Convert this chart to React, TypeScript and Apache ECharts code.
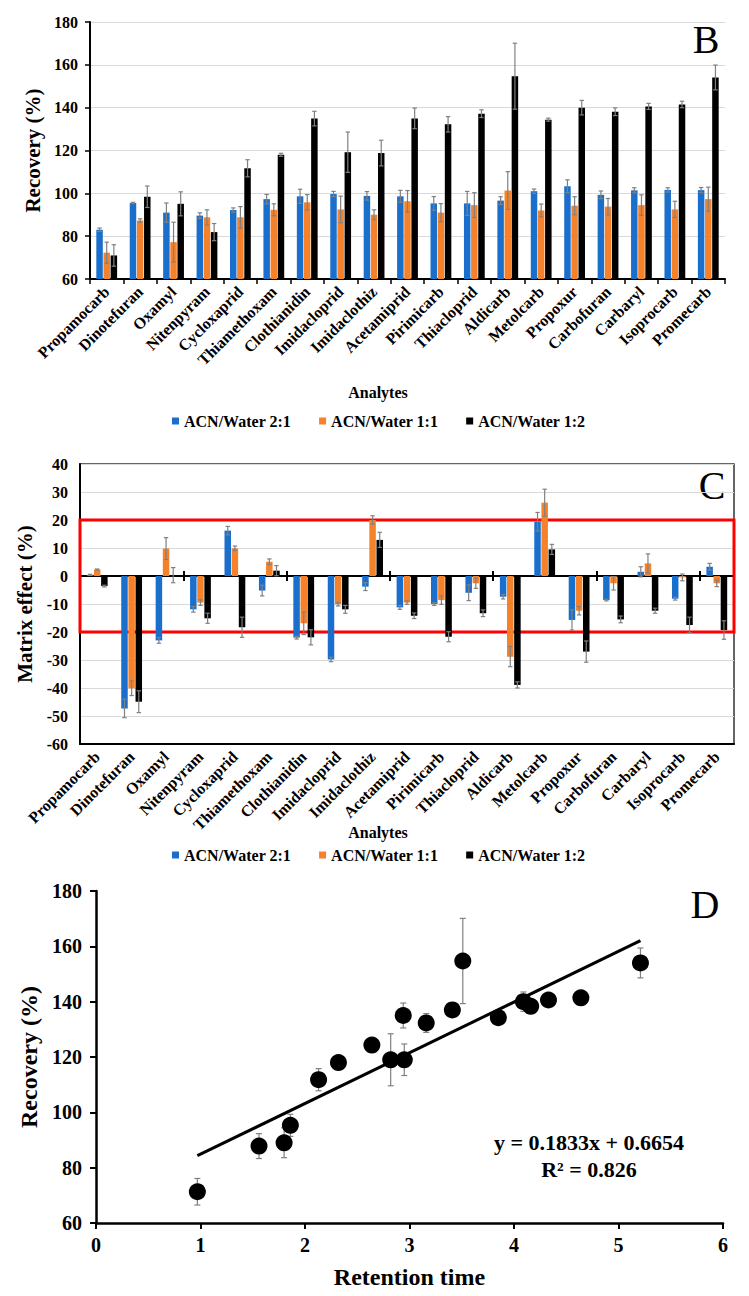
import React, { useEffect, useRef } from "react";
import * as echarts from "echarts";

// ---------- data ----------
const analytes = [
  "Propamocarb", "Dinotefuran", "Oxamyl", "Nitenpyram", "Cycloxaprid", "Thiamethoxam",
  "Clothianidin", "Imidacloprid", "Imidaclothiz", "Acetamiprid", "Pirimicarb", "Thiacloprid",
  "Aldicarb", "Metolcarb", "Propoxur", "Carbofuran", "Carbaryl", "Isoprocarb", "Promecarb",
];
const seriesNames = ["ACN/Water 2:1", "ACN/Water 1:1", "ACN/Water 1:2"];

// Panel B: recovery (%)
const recBlue = [83, 95.5, 91, 89.6, 92.2, 97.3, 98.6, 99.7, 98.8, 98.6, 95.3, 95.3, 96.6, 101, 103.3, 99.3, 101.4, 101.6, 101.5];
const recBlueErr = [0.8, 0.3, 4.5, 1.3, 1.0, 2.2, 3.3, 1.2, 2.0, 2.8, 3.2, 5.6, 1.8, 1.0, 3.0, 1.8, 1.2, 1.0, 1.2];
const recOrange = [72.3, 87.3, 77.2, 88.8, 88.8, 92.3, 95.8, 92.5, 90, 96.3, 91, 94.5, 101.3, 92, 94.2, 93.8, 94.5, 92.5, 97.3];
const recOrangeErr = [4.9, 0.8, 9.3, 3.5, 5.0, 2.8, 3.6, 6.2, 2.3, 5.0, 4.2, 5.8, 8.8, 3.0, 4.2, 3.8, 4.8, 3.8, 5.6];
const recBlack = [71, 98.4, 95.1, 81.9, 111.7, 118, 134.9, 119.2, 118.8, 135, 132.2, 137.2, 154.7, 134.4, 140, 138.1, 140.6, 141.5, 154.1];
const recBlackErr = [5, 5, 5.6, 4, 4, 0.7, 3.4, 9.4, 6, 4.8, 3.6, 1.8, 15.4, 0.7, 3.4, 1.8, 1.4, 1.5, 5.8];

// Panel C: matrix effect (%)
const meBlue = [0.4, -47.3, -23, -11.9, 16.2, -5.2, -22, -29.8, -3.8, -11.2, -10, -6, -7.4, 19.4, -15.7, -8.6, 1.5, -8.1, 3.3];
const meBlueErr = [0.2, 3.3, 1, 1, 1.5, 1.9, 0.5, 0.8, 1.4, 0.7, 0.5, 2.8, 0.8, 3.3, 3.6, 0.3, 1.8, 0.5, 1.2];
const meOrange = [2.3, -40.1, 9.8, -9.5, 9.9, 5.1, -16.9, -10.1, 20, -9.5, -8.6, -2.6, -28.8, 26.2, -12.4, -2.6, 4.5, -0.5, -2.6];
const meOrangeErr = [0.2, 2.6, 3.9, 1, 0.8, 1, 4, 0.6, 1.5, 0.6, 1.5, 1.8, 3.6, 4.8, 1.5, 2.4, 3.4, 1.2, 1.2];
const meBlack = [-3.6, -44.9, 0.3, -15.1, -18.3, 1.9, -21.9, -11.9, 12.9, -14.2, -21.7, -13.3, -38.9, 9.5, -27, -15.5, -12.4, -17.5, -19.3];
const meBlackErr = [0.3, 3.9, 2.7, 1.8, 3.6, 1.8, 2.7, 1.4, 2.7, 1, 1.8, 1.2, 1.1, 1.8, 3.8, 1.2, 0.9, 2.8, 3.3];

// Panel D: recovery vs retention time
const rtTime = [0.97, 1.56, 1.80, 1.86, 2.13, 2.32, 2.64, 2.82, 2.95, 2.94, 3.16, 3.41, 3.51, 3.85, 4.09, 4.16, 4.33, 4.64, 5.21];
const rtRecovery = [71.3, 87.8, 89, 95.3, 111.8, 118, 124.3, 119, 119, 135, 132.3, 137, 154.7, 134.2, 140, 138.3, 140.6, 141.4, 154];
const rtErr = [4.8, 4.5, 5.4, 4, 4, 1, 1.5, 9.4, 5.7, 4.5, 3.4, 1.5, 15.4, 0.8, 3.5, 1.5, 1.3, 1.3, 5.4];
const trendSlope = 18.33;
const trendIntercept = 66.54;
const trendRange = [0.97, 5.21];
const equationText = "y = 0.1833x + 0.6654";
const r2Text = "R² = 0.826";

const recTicks = { min: 60, max: 180, interval: 20 };
const meTicks = { min: -60, max: 40, interval: 10 };
const rtTicks = { min: 0, max: 6, interval: 1 };

// ---------- styles ----------
const FONT = "Liberation Serif";
const COLORS = ["#1a6fcc", "#f5822a", "#000000"];
const ERR_COLOR = "#808080";
const GRID_LINE = "#d9d9d9";
const BAR_W = 6.5;
const BAR_STEP = 7.15;

function errRender(offset: number, capHalf: number) {
  return (params: any, api: any) => {
    const x = api.value(0);
    const lo = api.value(1);
    const hi = api.value(2);
    const pHi = api.coord([x, hi]);
    const pLo = api.coord([x, lo]);
    const cx = pHi[0] + offset;
    const style = { stroke: ERR_COLOR, lineWidth: 1.2, fill: null };
    return {
      type: "group",
      children: [
        { type: "line", shape: { x1: cx, y1: pHi[1], x2: cx, y2: pLo[1] }, style },
        { type: "line", shape: { x1: cx - capHalf, y1: pHi[1], x2: cx + capHalf, y2: pHi[1] }, style },
        { type: "line", shape: { x1: cx - capHalf, y1: pLo[1], x2: cx + capHalf, y2: pLo[1] }, style },
      ],
    };
  };
}

function txt(x: number, y: number, text: string, size: number, bold: boolean) {
  return {
    type: "text",
    x,
    y,
    style: {
      text,
      fontFamily: FONT,
      fontSize: size,
      fontWeight: bold ? "bold" : "normal",
      fill: "#000",
      textAlign: "center",
      textVerticalAlign: "middle",
    },
  };
}

function buildOption() {
  const recVals = [recBlue, recOrange, recBlack];
  const recErrs = [recBlueErr, recOrangeErr, recBlackErr];
  const meVals = [meBlue, meOrange, meBlack];
  const meErrs = [meBlueErr, meOrangeErr, meBlackErr];

  const bold = (size: number) => ({
    color: "#000",
    fontFamily: FONT,
    fontWeight: "bold" as const,
    fontSize: size,
  });

  const series: any[] = [];

  // Panel B bars + error bars
  recVals.forEach((vals, k) => {
    series.push({
      type: "bar",
      name: seriesNames[k],
      xAxisIndex: 0,
      yAxisIndex: 0,
      data: vals,
      barWidth: BAR_W,
      barGap: "10%",
      itemStyle: { color: COLORS[k] },
      z: 2,
    });
  });
  recVals.forEach((vals, k) => {
    series.push({
      type: "custom",
      name: "errB" + k,
      xAxisIndex: 0,
      yAxisIndex: 0,
      renderItem: errRender((k - 1) * BAR_STEP, 2.2),
      encode: { x: 0, y: [1, 2] },
      data: vals.map((v, i) => [i, v - recErrs[k][i], v + recErrs[k][i]]),
      z: 5,
      silent: true,
    });
  });

  // Panel C bars + error bars
  meVals.forEach((vals, k) => {
    const s: any = {
      type: "bar",
      name: seriesNames[k],
      xAxisIndex: 1,
      yAxisIndex: 1,
      data: vals,
      barWidth: BAR_W,
      barGap: "10%",
      itemStyle: { color: COLORS[k] },
      z: 2,
    };
    if (k === 0) {
      s.markArea = {
        silent: true,
        itemStyle: { color: "rgba(0,0,0,0)", borderColor: "#ff0000", borderWidth: 3 },
        data: [[{ yAxis: -20 }, { yAxis: 20 }]],
      };
    }
    series.push(s);
  });
  meVals.forEach((vals, k) => {
    series.push({
      type: "custom",
      name: "errC" + k,
      xAxisIndex: 1,
      yAxisIndex: 1,
      renderItem: errRender((k - 1) * BAR_STEP, 2.2),
      encode: { x: 0, y: [1, 2] },
      data: vals.map((v, i) => [i, v - meErrs[k][i], v + meErrs[k][i]]),
      z: 5,
      silent: true,
    });
  });

  // Panel D
  series.push({
    type: "custom",
    name: "errD",
    xAxisIndex: 4,
    yAxisIndex: 2,
    renderItem: errRender(0, 3),
    encode: { x: 0, y: [1, 2] },
    data: rtTime.map((t, i) => [t, rtRecovery[i] - rtErr[i], rtRecovery[i] + rtErr[i]]),
    z: 2,
    silent: true,
  });
  series.push({
    type: "line",
    name: "trend",
    xAxisIndex: 4,
    yAxisIndex: 2,
    data: trendRange.map((t) => [t, trendSlope * t + trendIntercept]),
    symbol: "none",
    lineStyle: { color: "#000", width: 3 },
    z: 3,
    silent: true,
  });
  series.push({
    type: "scatter",
    name: "points",
    xAxisIndex: 4,
    yAxisIndex: 2,
    data: rtTime.map((t, i) => [t, rtRecovery[i]]),
    symbol: "circle",
    symbolSize: 17,
    itemStyle: { color: "#000", opacity: 1 },
    z: 4,
  });

  const legendBase = {
    data: seriesNames,
    orient: "horizontal",
    left: 172,
    padding: 0,
    itemWidth: 7,
    itemHeight: 7,
    itemGap: 28,
    icon: "rect",
    selectedMode: false,
    textStyle: bold(16),
  };

  const catAxisLabel = {
    ...bold(16),
    rotate: 45,
    interval: 0,
  };

  return {
    animation: false,
    backgroundColor: "#ffffff",
    textStyle: { fontFamily: FONT },
    grid: [
      { left: 90, top: 22, width: 635, height: 257 },
      { left: 80, top: 464, width: 654, height: 280, show: true, borderColor: "#333", borderWidth: 1.5 },
      { left: 96, top: 891, width: 627, height: 332 },
    ],
    legend: [
      { ...legendBase, top: 413 },
      { ...legendBase, top: 847 },
    ],
    xAxis: [
      {
        gridIndex: 0,
        type: "category",
        data: analytes,
        axisLine: { onZero: false, lineStyle: { color: "#000", width: 2 } },
        axisTick: { show: true, length: 5, lineStyle: { color: "#000", width: 1.5 } },
        axisLabel: { ...catAxisLabel, margin: 10 },
      },
      {
        gridIndex: 1,
        type: "category",
        data: analytes,
        axisLine: { show: true, onZero: false, lineStyle: { color: "#000", width: 2 } },
        axisTick: { show: false },
        axisLabel: { ...catAxisLabel, margin: 10 },
      },
      {
        gridIndex: 1,
        type: "category",
        data: analytes,
        axisLine: { show: true, onZero: true, onZeroAxisIndex: 1, lineStyle: { color: "#000", width: 2 } },
        axisTick: { show: true, length: 5, lineStyle: { color: "#000", width: 2 } },
        axisLabel: { show: false },
      },
      {
        gridIndex: 1,
        type: "category",
        data: analytes,
        axisLine: { show: true, onZero: true, onZeroAxisIndex: 1, lineStyle: { color: "#000", width: 2 } },
        axisTick: { show: true, inside: true, length: 5, lineStyle: { color: "#000", width: 2 } },
        axisLabel: { show: false },
      },
      {
        gridIndex: 2,
        type: "value",
        ...rtTicks,
        splitLine: { show: false },
        axisLine: { onZero: false, lineStyle: { color: "#000", width: 2.5 } },
        axisTick: { show: true, length: 6, lineStyle: { color: "#000", width: 2 } },
        axisLabel: { ...bold(20), margin: 12 },
        name: "Retention time",
        nameLocation: "middle",
        nameGap: 42,
        nameTextStyle: bold(24),
      },
    ],
    yAxis: [
      {
        gridIndex: 0,
        type: "value",
        ...recTicks,
        splitLine: { show: true, lineStyle: { color: GRID_LINE, width: 1 } },
        axisLine: { show: true, onZero: false, lineStyle: { color: "#000", width: 2 } },
        axisTick: { show: true, length: 5, lineStyle: { color: "#000", width: 1.5 } },
        axisLabel: { ...bold(16), margin: 12 },
        name: "Recovery (%)",
        nameLocation: "middle",
        nameGap: 40,
        nameTextStyle: bold(21),
      },
      {
        gridIndex: 1,
        type: "value",
        ...meTicks,
        splitLine: { show: true, lineStyle: { color: GRID_LINE, width: 1 } },
        axisLine: { show: true, onZero: false, lineStyle: { color: "#000", width: 2 } },
        axisTick: { show: false },
        axisLabel: { ...bold(16), margin: 12 },
        name: "Matrix effect (%)",
        nameLocation: "middle",
        nameGap: 40,
        nameTextStyle: bold(21),
      },
      {
        gridIndex: 2,
        type: "value",
        ...recTicks,
        splitLine: { show: false },
        axisLine: { show: true, onZero: false, lineStyle: { color: "#000", width: 2.5 } },
        axisTick: { show: true, length: 6, lineStyle: { color: "#000", width: 2 } },
        axisLabel: { ...bold(20), margin: 14 },
        name: "Recovery (%)",
        nameLocation: "middle",
        nameGap: 52,
        nameTextStyle: bold(24),
      },
    ],
    graphic: [
      txt(706, 39, "B", 40, false),
      txt(712, 485, "C", 40, false),
      txt(705, 904, "D", 40, false),
      txt(378, 392, "Analytes", 16, true),
      txt(378, 832, "Analytes", 16, true),
      txt(589, 1142, equationText, 22, true),
      txt(589, 1169, r2Text, 22, true),
    ],
    series,
  };
}

export default function App() {
  const ref = useRef<HTMLDivElement>(null);
  useEffect(() => {
    document.body.style.margin = "0";
    document.body.style.overflow = "hidden";
    const chart = echarts.init(ref.current as HTMLDivElement, null, { renderer: "svg" });
    chart.setOption(buildOption() as any);
    return () => chart.dispose();
  }, []);
  return <div ref={ref} style={{ width: 749, height: 1296 }} />;
}
